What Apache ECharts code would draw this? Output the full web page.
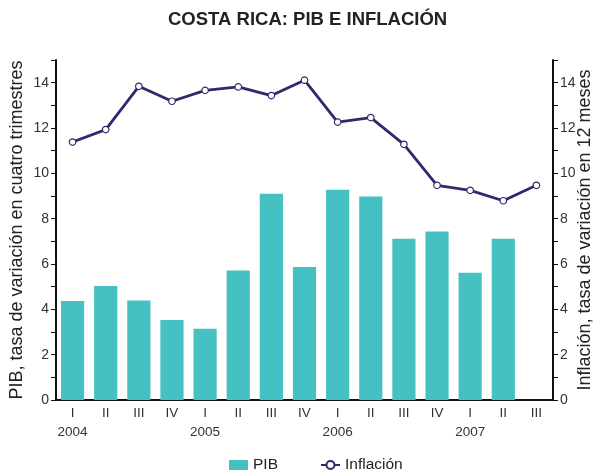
<!DOCTYPE html>
<html><head><meta charset="utf-8">
<script src="https://cdn.jsdelivr.net/npm/echarts@6/dist/echarts.min.js"></script>
<style>html,body{margin:0;padding:0;background:#fff}#c{width:595px;height:472px}</style>
</head><body><div id="c"></div>
<script>
const quarters = ['I','II','III','IV','I','II','III','IV','I','II','III','IV','I','II','III'];
const years = ['2004','','','','2005','','','','2006','','','','2007','',''];
const pib = [4.37, 5.03, 4.39, 3.53, 3.14, 5.71, 9.1, 5.87, 9.28, 8.98, 7.11, 7.43, 5.61, 7.11, null];
const inflacion = [11.38, 11.93, 13.84, 13.18, 13.66, 13.81, 13.43, 14.11, 12.26, 12.46, 11.28, 9.47, 9.25, 8.79, 9.47];
const yTicks = [0, 2, 4, 6, 8, 10, 12, 14];

const categories = quarters.map((q, i) => years[i] ? q + '\n' + years[i] : q);
const font = 'Liberation Sans, Arial, sans-serif';
const chart = echarts.init(document.getElementById('c'), null, {renderer: 'canvas'});
const yAxisCommon = {
  type: 'value', min: 0, max: 15, interval: 1,
  axisLine: {show: true, lineStyle: {color: '#111', width: 2}},
  axisTick: {show: true, length: 5, lineStyle: {color: '#111', width: 1}},
  splitLine: {show: false},
  axisLabel: {color: '#333', fontSize: 14, fontFamily: font, margin: 7,
    formatter: v => (yTicks.indexOf(v) >= 0 ? String(v) : '')},
  nameLocation: 'middle', nameRotate: 90, nameMoveOverlap: false,
  nameTextStyle: {color: '#222', fontSize: 18, fontFamily: font}
};
chart.setOption({
  animation: false,
  title: {text: 'COSTA RICA: PIB E INFLACIÓN', left: 163, top: 5,
    textStyle: {fontSize: 18.5, fontWeight: 'bold', color: '#222', fontFamily: font}},
  grid: {left: 56, right: 42, top: 60, bottom: 72, containLabel: false, outerBoundsMode: 'none'},
  legend: {top: 452, left: 224, itemGap: 42, itemWidth: 19, itemHeight: 10,
    textStyle: {fontSize: 15.5, color: '#222', fontFamily: font},
    data: [{name: 'PIB', icon: 'rect'}, {name: 'Inflación'}]},
  xAxis: {type: 'category', data: categories, boundaryGap: true,
    axisLine: {lineStyle: {color: '#111', width: 2}},
    axisTick: {show: false},
    axisLabel: {color: '#333', fontSize: 13.5, fontFamily: font, interval: 0, margin: 4, lineHeight: 19}},
  yAxis: [
    Object.assign({}, yAxisCommon, {position: 'left', name: 'PIB, tasa de variación en cuatro trimestres', nameGap: 30}),
    Object.assign({}, yAxisCommon, {position: 'right', name: 'Inflación, tasa de variación en 12 meses', nameGap: 23})
  ],
  series: [
    {name: 'PIB', type: 'bar', data: pib, barWidth: '70%', yAxisIndex: 0,
      itemStyle: {color: '#45c1c4'}},
    {name: 'Inflación', type: 'line', data: inflacion, yAxisIndex: 1,
      symbol: 'circle', symbolSize: 6.5,
      lineStyle: {color: '#2d2a6d', width: 2.8},
      itemStyle: {color: '#fff', borderColor: '#2d2a6d', borderWidth: 1.2}}
  ]
});
</script></body></html>
